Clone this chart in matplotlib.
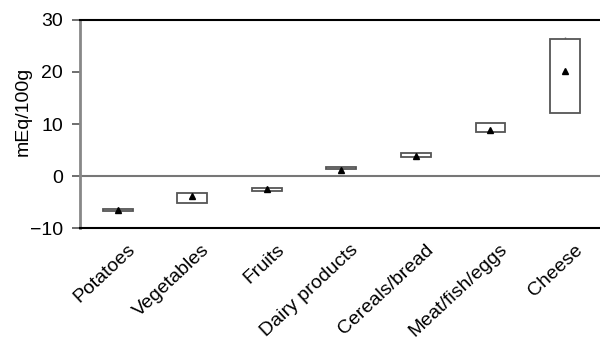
import numpy as np
import matplotlib
matplotlib.use("Agg")
import matplotlib.pyplot as plt
from matplotlib.transforms import ScaledTranslation

plt.rcParams['font.family'] = ['Liberation Sans', 'DejaVu Sans']

# food groups and their acid load (mEq/100g)
categories = ["Potatoes", "Vegetables", "Fruits", "Dairy products",
              "Cereals/bread", "Meat/fish/eggs", "Cheese"]
box_low = [-6.8, -5.1, -2.9, 1.4, 3.6, 8.4, 12.2]
box_high = [-6.3, -3.2, -2.3, 1.8, 4.5, 10.1, 26.4]
means = [-6.5, -3.8, -2.5, 1.2, 3.9, 8.9, 20.1]
whisker_high = [-6.3, -3.2, -2.3, 1.8, 4.5, 10.1, 26.8]

x = np.arange(len(categories))

fig = plt.figure(figsize=(6.0, 3.44), dpi=100)
ax = fig.add_axes([0.133, 0.337, 0.867, 0.605])

# boxes
heights = np.array(box_high) - np.array(box_low)
ax.bar(x, heights, bottom=box_low, width=0.4, color='white',
       edgecolor='#555555', linewidth=1.3, zorder=3)
ax.vlines(x, box_high, whisker_high, color='#777777', linewidth=1, zorder=2)
ax.plot(x, means, linestyle='none', marker='^', color='black',
        markersize=5, zorder=4)

# zero line
ax.axhline(0, color='#777777', linewidth=1.5, zorder=1)

ax.set_xlim(-0.51, 6.47)
ax.set_ylim(-10, 30)
ax.set_yticks([-10, 0, 10, 20, 30])
ax.set_yticklabels(["\u221210", "0", "10", "20", "30"])
ax.set_xticks(x)
ax.set_xticklabels(categories, rotation=43, ha='right', va='top',
                   rotation_mode='anchor')
ax.tick_params(axis='x', length=0, labelsize=14, pad=0)
ax.tick_params(axis='y', length=6, width=1.2, labelsize=14, pad=6,
               color='#555555')
# shift the slanted labels a bit right/down like the original
offset = ScaledTranslation(0.09, -0.13, fig.dpi_scale_trans)
for lab in ax.get_xticklabels():
    lab.set_transform(lab.get_transform() + offset)

ax.set_ylabel("mEq/100g", fontsize=14)
ax.yaxis.set_label_coords(-0.092, 0.56)

ax.spines['right'].set_visible(False)
ax.spines['left'].set_color('#888888')
ax.spines['left'].set_linewidth(2)
ax.spines['top'].set_color('black')
ax.spines['top'].set_linewidth(1.5)
ax.spines['bottom'].set_color('black')
ax.spines['bottom'].set_linewidth(1.5)

fig.savefig("out.png", dpi=100)
